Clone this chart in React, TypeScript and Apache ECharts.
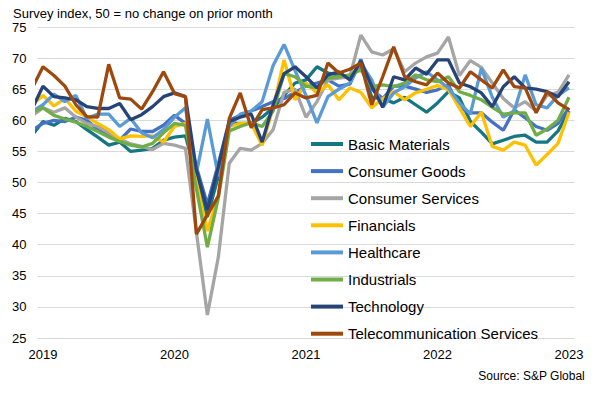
import React, { useEffect, useRef } from "react";
import * as echarts from "echarts";

// Monthly, Dec 2018 (index -1) through Jan 2023 (index 48)
const firstIndex = -1;
const yearLabels = ["2019", "2020", "2021", "2022", "2023"];
const yearTickIndex = [0, 12, 24, 36, 48];
const seriesNames = [
  "Basic Materials",
  "Consumer Goods",
  "Consumer Services",
  "Financials",
  "Healthcare",
  "Industrials",
  "Technology",
  "Telecommunication Services",
];
const seriesColors = ["#157684", "#4472C4", "#A5A5A5", "#FFC000", "#5B9BD5", "#70AD47", "#264478", "#9E480E"];

const basicMaterials = [
  57.6,
  59.8, 59.2, 60.3, 59.8, 58.5, 57.3, 56, 56.5, 55, 55.2, 55.5, 56.8,
  57.3, 57.5, 51, 44.5, 51, 59.5, 59.5, 59.5, 60.5, 62, 64, 66,
  66.5, 68.6, 67.6, 67.3, 66.8, 68.9, 63.7, 63.5, 62.8, 63.7, 62.5, 61.3,
  62.8, 64.6, 63.6, 59.8, 58.1, 56.2, 56.8, 57.4, 57.6, 56.5, 56.5, 58.3,
  61.5,
];
const consumerGoods = [
  58.4,
  59.5, 60, 59.8, 60.5, 60, 58.5, 57.5, 56.8, 58.6, 58.2, 58.2, 59.2,
  60.8, 59.5, 52.5, 46.5, 53, 60, 60.8, 61.5, 62.2, 63, 63.5, 64.5,
  65.5, 66, 66.5, 65.5, 65.8, 69.8, 65, 63.5, 65.5, 65.5, 65, 64.5,
  64.9, 65.7, 62, 61.2, 61.2, 59.7, 58.4, 61.7, 60.4, 59, 58.4, 59.5,
  62,
];
const consumerServices = [
  60.7,
  62, 61.3, 62, 60.5, 59.5, 59, 58, 57, 56.2, 55.8, 55.3, 56.3,
  56, 55.5, 42, 28.7, 38, 53.1, 55.5, 55.2, 56.3, 58.5, 64.5, 65,
  60.5, 63, 66.5, 66.8, 67, 73.7, 71, 70.5, 71.5, 67.8, 69.2, 70.2,
  70.8, 73.4, 67.2, 69.6, 68.5, 66, 63.5, 62, 63, 61.5, 64, 64.5,
  67.3,
];
const financials = [
  62.5,
  64, 62.3, 63.5, 61.5, 60.5, 59.5, 58.5, 57, 57.5, 57.4, 57.5, 56.5,
  59, 59.5, 50, 42.2, 48, 59, 59.5, 59.5, 56, 62, 69.7, 63.3,
  66, 64.4, 65.7, 63.3, 65.2, 64.5, 62, 63.5, 64.6, 63.3, 64.4, 65,
  65.6, 64.9, 62, 59, 61.3, 55.8, 55.2, 56.5, 56, 52.8, 54.5, 56.3,
  61.3,
];
const healthcare = [
  61.4,
  62.5, 64.2, 63, 64, 60.3, 61, 61, 59, 60.3, 58, 57.2, 58.5,
  60.5, 62, 51.5, 60.2, 51, 59, 61, 61.5, 63, 68.8, 72.2, 68,
  64, 59.6, 63.8, 65, 66, 69.2, 66.5, 62.1, 64.4, 65.4, 66.8, 67.8,
  66.5, 65.2, 62.8, 61, 68.4, 63.7, 60.5, 61.5, 67.3, 62.5, 62, 64,
  65.2,
];
const industrials = [
  61.3,
  62, 60.8, 60.2, 59.7, 59, 58.2, 57.3, 56.6, 56, 55.7, 56.3, 58,
  59.5, 59.2, 49, 39.6, 47.5, 58.3, 59, 59.6, 59, 61.5, 67.5, 67,
  65.5, 65.2, 66.8, 67, 67.3, 68.1, 65.4, 65.7, 65.4, 66, 67.3, 66.5,
  66.2, 67, 64.6, 64, 63.3, 62.1, 61, 61.2, 61.2, 57.6, 58.6, 60,
  63.7,
];
const technology = [
  61.8,
  65.5, 63.8, 63.6, 63.3, 62.2, 61.9, 61.9, 62.7, 60.1, 60.9, 62.2, 63.8,
  64.4, 63.8, 52, 45.6, 52.5, 59.8, 60.5, 61, 56.5, 62.5, 67.5, 68.6,
  67, 65.2, 67.3, 67.8, 66.5, 69.5, 65.5, 62.1, 67, 66.5, 68.4, 67.4,
  69.7, 69.7, 66, 65.4, 64.4, 62.2, 65.4, 67, 65.2, 65, 64.6, 63.8,
  66.2,
];
const telecom = [
  65.1,
  68.6, 67.2, 65.5, 62.5, 60.6, 60.5, 69, 63.6, 63.4, 61.8, 64.6, 67.8,
  64.3, 63.8, 41.7, 44.8, 47.8, 60.3, 64.4, 58.8, 61.7, 62, 62.5, 64.4,
  63.6, 64, 69.2, 67.6, 68.2, 69.2, 62.5, 67, 71.8, 67, 66.2, 65.7,
  67.6, 66, 65.2, 67.8, 66.5, 65.2, 68.1, 65.4, 65.2, 61.2, 64.6, 62.8,
  61.7,
];
const allValues = [
  basicMaterials,
  consumerGoods,
  consumerServices,
  financials,
  healthcare,
  industrials,
  technology,
  telecom,
];

const titleText = "Survey index, 50 = no change on prior month";
const sourceText = "Source: S&P Global";
const FONT = "'Liberation Sans', Arial, Helvetica, sans-serif";

export default function App() {
  const ref = useRef<HTMLDivElement>(null);
  useEffect(() => {
    if (!ref.current) return;
    const chart = echarts.init(ref.current, null, { renderer: "svg" });
    const series = seriesNames.map((name, k) => ({
      name,
      type: "line",
      data: allValues[k].map((v, j) => [firstIndex + j, v]),
      symbol: "none",
      showSymbol: false,
      clip: true,
      lineStyle: { width: 3.3, color: seriesColors[k] },
      itemStyle: { color: seriesColors[k] },
      emphasis: { disabled: true },
    }));
    chart.setOption({
      animation: false,
      textStyle: { fontFamily: FONT },
      grid: { left: 37.5, right: 23.5, top: 27, bottom: 55, containLabel: false },
      xAxis: {
        type: "value",
        min: -0.5,
        max: 48.5,
        axisLine: { show: false },
        axisTick: { show: false },
        splitLine: { show: false },
        axisLabel: {
          customValues: yearTickIndex,
          formatter: (v: number) => yearLabels[Math.round(v / 12)] ?? "",
          fontSize: 13,
          color: "#000",
          margin: 10,
          fontFamily: FONT,
        },
      },
      yAxis: {
        type: "value",
        min: 25,
        max: 75,
        interval: 5,
        axisLine: { show: false },
        axisTick: { show: false },
        axisLabel: { fontSize: 13, color: "#000", margin: 11, fontFamily: FONT },
        splitLine: { lineStyle: { color: "#D9D9D9", width: 1 } },
      },
      legend: {
        orient: "vertical",
        left: 311,
        top: 136.5,
        padding: 0,
        icon: "rect",
        itemWidth: 32,
        itemHeight: 4,
        itemGap: 12.1,
        selectedMode: false,
        data: seriesNames,
        textStyle: { fontSize: 15, color: "#000", lineHeight: 15, fontFamily: FONT },
      },
      graphic: [
        {
          type: "text",
          left: 13,
          top: 7,
          style: { text: titleText, fontSize: 13, fill: "#000", fontFamily: FONT },
        },
        {
          type: "text",
          right: 13,
          top: 370,
          style: { text: sourceText, fontSize: 12, fill: "#000", fontFamily: FONT },
        },
      ],
      series,
    });
    return () => chart.dispose();
  }, []);
  return <div ref={ref} style={{ width: 598, height: 393, margin: -8 }} />;
}
